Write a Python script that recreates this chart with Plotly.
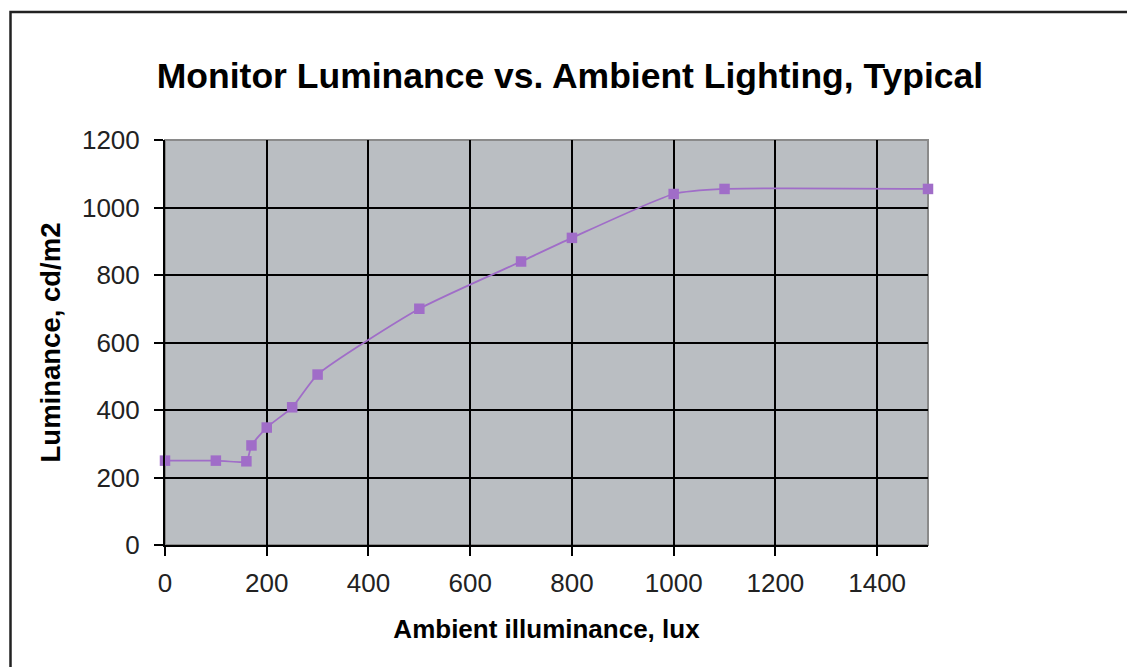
import plotly.graph_objects as go

# Data
ambient_lux = [0, 100, 160, 170, 200, 250, 300, 500, 700, 800, 1000, 1100, 1500]
luminance = [250, 250, 248, 295, 348, 408, 505, 700, 840, 910, 1040, 1055, 1055]
x_ticks = [0, 200, 400, 600, 800, 1000, 1200, 1400]
y_ticks = [0, 200, 400, 600, 800, 1000, 1200]

title_text = "Monitor Luminance vs. Ambient Lighting, Typical"
x_title = "Ambient illuminance, lux"
y_title = "Luminance, cd/m2"

FONT = "Arial, Liberation Sans, sans-serif"
OFF = 8  # page body margin
W, H = 1135 - OFF, 667 - OFF
L, R, T, B = 165 - OFF, 207, 140 - OFF, 122
pw, ph = W - L - R, H - T - B

fig = go.Figure()
fig.add_trace(go.Scatter(
    x=ambient_lux, y=luminance, mode="lines+markers",
    line=dict(color="#A06DC8", width=1.8, shape="spline", smoothing=0.55),
    marker=dict(symbol="square", size=10.5, color="#A06DC8"),
    showlegend=False, cliponaxis=False,
))

def px_x(p):
    return (p - OFF - L) / pw

def px_y(p):
    return (H - B - (p - OFF)) / ph

fig.update_layout(
    width=W, height=H,
    margin=dict(l=L, r=R, t=T, b=B),
    paper_bgcolor="white",
    plot_bgcolor="#BABEC2",
    font=dict(family=FONT, color="black"),
    title=dict(text="<b>" + title_text + "</b>", font=dict(size=35.5, family=FONT, color="black"),
               x=(570 - OFF) / W, xanchor="center", xref="container",
               y=1 - (76 - OFF) / H, yanchor="middle", yref="container"),
    shapes=[
        dict(type="rect", xref="paper", yref="paper", x0=0, y0=0, x1=1, y1=1,
             line=dict(color="#8A8A8A", width=2), layer="below"),
        dict(type="rect", xref="paper", yref="paper",
             x0=px_x(10.5), y0=px_y(690), x1=px_x(1160), y1=px_y(12),
             line=dict(color="#222222", width=2.5), layer="above"),
    ],
)

fig.update_xaxes(
    range=[0, 1500], tickvals=x_ticks, ticktext=[str(v) for v in x_ticks],
    showgrid=True, gridcolor="black", gridwidth=2,
    showline=True, linecolor="black", linewidth=2,
    ticks="outside", ticklen=9, tickwidth=2, tickcolor="black",
    tickfont=dict(size=26, family=FONT, color="#222"),
    ticklabelstandoff=5,
    zeroline=False,
    title=dict(text="<b>" + x_title + "</b>", font=dict(size=26, family=FONT, color="black"), standoff=23),
)
fig.update_yaxes(
    range=[0, 1200], tickvals=y_ticks, ticktext=[str(v) for v in y_ticks],
    showgrid=True, gridcolor="black", gridwidth=2,
    showline=True, linecolor="black", linewidth=2,
    ticks="outside", ticklen=9, tickwidth=2, tickcolor="black",
    tickfont=dict(size=26, family=FONT, color="#222"),
    ticklabelstandoff=9,
    zeroline=False,
    title=dict(text="<b>" + y_title + "</b>", font=dict(size=27.5, family=FONT, color="black"), standoff=13),
)

fig.write_html("out.html")
